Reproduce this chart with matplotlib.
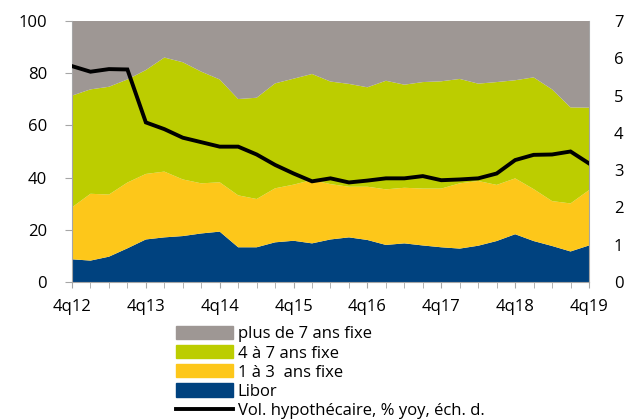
import matplotlib

matplotlib.use("Agg")
import matplotlib.pyplot as plt
import matplotlib.patches as mpatches
import matplotlib.lines as mlines
import numpy as np

plt.rcParams["font.family"] = ["Open Sans", "DejaVu Sans"]

# quarters 4q12 .. 4q19
quarters = [f"{q}q{y}" for y in range(12, 20) for q in (1, 2, 3, 4)][3:32]
year_labels = ["4q12", "4q13", "4q14", "4q15", "4q16", "4q17", "4q18", "4q19"]

# shares of new mortgages, %
libor = [8.7, 8.2, 9.7, 12.9, 16.3, 17.1, 17.6, 18.6, 19.3, 13.3, 13.3, 15.2, 15.8, 14.8, 16.3,
         17.1, 16.1, 14.2, 14.8, 14.0, 13.3, 12.8, 13.9, 15.7, 18.3, 15.7, 13.8, 11.7, 14.0]
fix_1_3 = [19.9, 25.6, 23.8, 25.2, 25.1, 25.2, 21.7, 19.2, 18.9, 19.9, 18.5, 20.7, 21.5, 24.3, 21.2,
           19.4, 20.4, 21.3, 21.3, 21.8, 22.5, 25.0, 24.8, 21.5, 21.4, 19.9, 17.2, 18.4, 21.2]
fix_4_7 = [42.8, 40.0, 41.3, 39.5, 39.8, 43.7, 44.9, 42.8, 39.4, 36.9, 38.8, 40.2, 40.6, 40.6, 39.3,
           39.4, 38.1, 41.6, 39.5, 40.8, 41.1, 40.0, 37.3, 39.4, 37.6, 42.8, 42.8, 36.8, 31.6]
fix_7plus = [28.6, 26.2, 25.2, 22.4, 18.8, 14.0, 15.8, 19.4, 22.4, 29.9, 29.4, 23.9, 22.1, 20.3, 23.2,
             24.1, 25.4, 22.9, 24.4, 23.4, 23.1, 22.2, 24.0, 23.4, 22.7, 21.6, 26.2, 33.1, 33.2]
# mortgage volume growth, % yoy (right scale)
vol_growth = [5.79, 5.64, 5.71, 5.70, 4.28, 4.10, 3.87, 3.75, 3.63, 3.63, 3.42, 3.14, 2.91, 2.70, 2.78,
              2.67, 2.72, 2.78, 2.78, 2.84, 2.73, 2.75, 2.78, 2.91, 3.27, 3.41, 3.42, 3.50, 3.18]

labels = ["plus de 7 ans fixe", "4 à 7 ans fixe", "1 à 3  ans fixe", "Libor",
          "Vol. hypothécaire, % yoy, éch. d."]
colors = ["#9e9794", "#bccd00", "#fdc71a", "#00427f"]
spine_c = "#a6a6a6"

x = np.arange(len(quarters))

fig = plt.figure(figsize=(6.27, 4.19), dpi=100)
ax = fig.add_axes([72 / 627, 1 - 282 / 419, 517 / 627, 261 / 419])
ax.stackplot(x, libor, fix_1_3, fix_4_7, fix_7plus,
             colors=[colors[3], colors[2], colors[1], colors[0]], linewidth=0)
ax.set_xlim(0, len(x) - 1)
ax.set_ylim(0, 100)
ax.set_yticks(range(0, 101, 20))
ax.set_xticks(x[::4])
ax.set_xticklabels(year_labels)
ax.set_xticks(x, minor=True)
for s in ["left", "right", "bottom"]:
    ax.spines[s].set_color(spine_c)
ax.spines["top"].set_visible(False)
ax.tick_params(axis="y", which="both", direction="out", length=5, color=spine_c,
               right=True, labelsize=12, pad=13)
ax.tick_params(axis="x", which="both", direction="out", length=4, color=spine_c,
               labelsize=12, pad=8)

ax2 = ax.twinx()
ax2.plot(x, vol_growth, color="black", lw=2.8, solid_joinstyle="miter")
ax2.set_ylim(0, 7)
ax2.set_yticks(range(0, 8))
for s in ax2.spines.values():
    s.set_visible(False)
ax2.tick_params(axis="y", length=0, labelsize=12, pad=18)

handles = [mpatches.Patch(color=c) for c in colors]
handles.append(mlines.Line2D([], [], color="black", lw=2.8))
fig.legend(handles, labels, loc="upper left", bbox_to_anchor=(176 / 627, 1 - 326 / 419),
           frameon=False, fontsize=12, handlelength=3.4, handleheight=0.85,
           handletextpad=0.3, labelspacing=0.16, borderpad=0, borderaxespad=0)

fig.savefig("out.png", dpi=100)
